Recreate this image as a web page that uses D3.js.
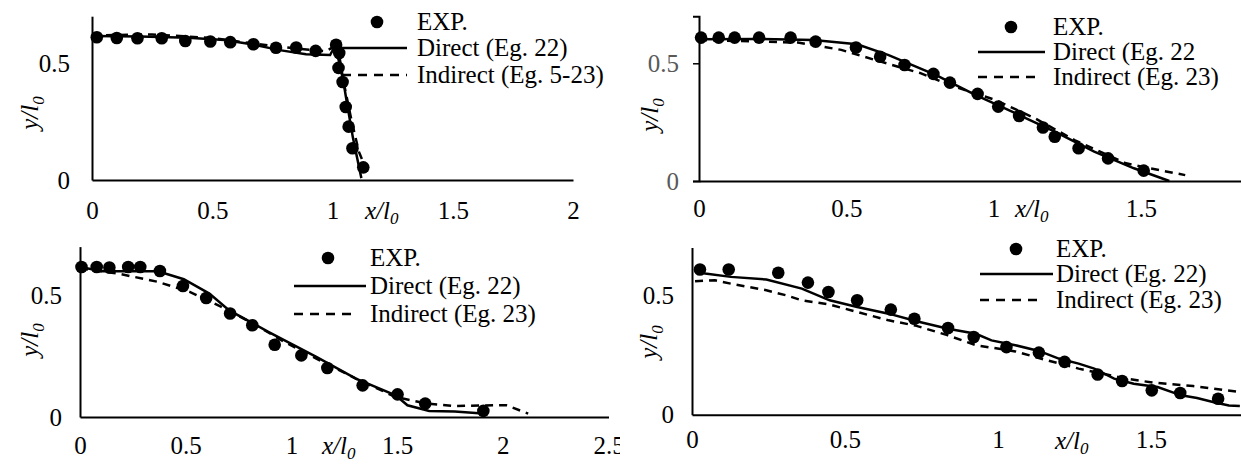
<!DOCTYPE html>
<html>
<head>
<meta charset="utf-8">
<script src="https://cdn.jsdelivr.net/npm/d3@7"></script>
<style>
  body { margin: 0; background: #fff; }
  #wrap { position: relative; width: 1241px; height: 464px; overflow: hidden; }
  svg { position: absolute; }
</style>
</head>
<body>
<div id="wrap"></div>
<script>
// panel A (top left)
const expA = [[0.020,0.610],[0.103,0.607],[0.189,0.606],[0.290,0.606],[0.388,0.594],[0.492,0.592],[0.575,0.589],[0.671,0.580],[0.765,0.565],[0.849,0.566],[0.930,0.552],[1.015,0.578],[1.028,0.543],[1.025,0.479],[1.042,0.419],[1.055,0.312],[1.067,0.228],[1.083,0.136],[1.128,0.054]];
const directA = [[0,0.615],[0.2,0.613],[0.4,0.608],[0.55,0.598],[0.67,0.579],[0.78,0.555],[0.89,0.537],[0.99,0.534],[1.01,0.572],[1.03,0.52],[1.055,0.36],[1.085,0.18],[1.12,0.008]];
const indirectA = [[0,0.618],[0.25,0.622],[0.5,0.607],[0.68,0.582],[0.85,0.562],[0.97,0.55],[1.0,0.566],[1.025,0.515],[1.05,0.40],[1.08,0.25],[1.11,0.12],[1.15,0.02]];

// panel B (top right)
const expB = [[0.007,0.609],[0.067,0.609],[0.121,0.609],[0.204,0.609],[0.311,0.609],[0.396,0.592],[0.533,0.567],[0.615,0.528],[0.698,0.493],[0.796,0.455],[0.852,0.418],[0.946,0.370],[1.016,0.316],[1.087,0.276],[1.168,0.227],[1.208,0.188],[1.289,0.139],[1.389,0.096],[1.510,0.044]];
const directB = [[0,0.602],[0.2,0.603],[0.389,0.599],[0.537,0.581],[0.644,0.535],[0.805,0.450],[0.940,0.365],[1.074,0.288],[1.208,0.210],[1.342,0.125],[1.477,0.054],[1.597,0]];
const indirectB = [[0,0.599],[0.336,0.588],[0.483,0.557],[0.617,0.507],[0.752,0.458],[0.859,0.404],[1.007,0.344],[1.141,0.266],[1.275,0.174],[1.450,0.075],[1.530,0.054],[1.651,0.025]];

// panel C (bottom left)
const expC = [[0.007,0.616],[0.079,0.616],[0.139,0.614],[0.228,0.616],[0.285,0.616],[0.378,0.600],[0.487,0.538],[0.597,0.489],[0.710,0.425],[0.815,0.377],[0.921,0.297],[1.047,0.253],[1.170,0.201],[1.337,0.130],[1.502,0.093],[1.633,0.055],[1.908,0.025]];
const directC = [[0,0.616],[0.107,0.599],[0.369,0.599],[0.491,0.566],[0.612,0.507],[0.706,0.438],[0.893,0.349],[1.118,0.247],[1.305,0.158],[1.493,0.089],[1.549,0.048],[1.652,0.025],[1.773,0.023],[1.904,0.014]];
const indirectC = [[0,0.610],[0.182,0.589],[0.369,0.555],[0.519,0.514],[0.669,0.452],[0.818,0.384],[0.968,0.308],[1.118,0.240],[1.305,0.158],[1.493,0.082],[1.642,0.055],[1.773,0.045],[1.961,0.048],[2.017,0.048],[2.120,0.014]];

// panel D (bottom right)
const expD = [[0.026,0.608],[0.120,0.608],[0.282,0.594],[0.379,0.553],[0.446,0.514],[0.540,0.479],[0.650,0.440],[0.727,0.402],[0.837,0.363],[0.921,0.325],[1.028,0.283],[1.134,0.260],[1.218,0.221],[1.326,0.168],[1.406,0.141],[1.503,0.102],[1.596,0.091],[1.720,0.067]];
const directD = [[0.010,0.601],[0.043,0.591],[0.127,0.577],[0.243,0.566],[0.359,0.528],[0.450,0.479],[0.540,0.451],[0.643,0.423],[0.734,0.391],[0.837,0.360],[0.928,0.339],[0.979,0.311],[1.057,0.291],[1.134,0.267],[1.199,0.235],[1.264,0.214],[1.315,0.193],[1.380,0.151],[1.444,0.130],[1.522,0.116],[1.599,0.081],[1.651,0.070],[1.703,0.053],[1.755,0.039],[1.791,0.036]];
const indirectD = [[0.010,0.559],[0.075,0.563],[0.140,0.545],[0.243,0.521],[0.307,0.500],[0.359,0.479],[0.450,0.461],[0.540,0.430],[0.643,0.395],[0.734,0.372],[0.837,0.332],[0.928,0.291],[1.057,0.265],[1.160,0.228],[1.264,0.193],[1.315,0.179],[1.419,0.151],[1.509,0.134],[1.638,0.120],[1.791,0.095]];

const legendA = ["EXP.", "Direct (Eg. 22)", "Indirect (Eg. 5-23)"];
const legendB = ["EXP.", "Direct (Eg. 22", "Indirect (Eg. 23)"];
const legendCD = ["EXP.", "Direct (Eg. 22)", "Indirect (Eg. 23)"];

const yTicks = [0, 0.5];
const xTicks = [0, 0.5, 1, 1.5, 2];
const xTicksCut = [0, 0.5, 1, 1.5]; // right panels are cropped before 2
const xTicksC = [0, 0.5, 1, 1.5, 2, 2.5];

const panels = [
  { left: 0, top: 0, w: 620, exp: expA, direct: directA, indirect: indirectA, legend: legendA,
    xMax: 2, ticks: xTicks, xr: [92, 573], yr: [180, 16.2], yTitle: [38, 113], xTitle: 365,
    leg: { marker: 377, line: [340, 407], dash: [342, 407], text: 417, rows: [22, 48, 75] },
    yTickColor: "#000", yTickLen: 0, yPad: 22, xPad: 21 },
  { left: 620, top: 0, w: 621, exp: expB, direct: directB, indirect: indirectB, legend: legendB,
    xMax: 2, ticks: xTicksCut, xr: [79, 668], yr: [181, 16.2], yTitle: [38, 115], xTitle: 395,
    leg: { marker: 391, line: [358, 425], dash: [358, 420], text: 433, rows: [27, 52, 77] },
    yTickColor: "#595959", yTickLen: 6, yPad: 20, xPad: 18 },
  { left: 0, top: 232, w: 620, exp: expC, direct: directC, indirect: indirectC, legend: legendCD,
    xMax: 2.5, ticks: xTicksC, xr: [80, 608.5], yr: [185, 14.6], yTitle: [38, 108], xTitle: 322,
    leg: { marker: 328, line: [294, 366], dash: [294, 358], text: 370, rows: [26, 54, 82] },
    yTickColor: "#000", yTickLen: 0, yPad: 18, xPad: 19 },
  { left: 620, top: 232, w: 621, exp: expD, direct: directD, indirect: indirectD, legend: legendCD,
    xMax: 2, ticks: xTicksCut, xr: [72, 683.8], yr: [182.7, 15.5], yTitle: [37, 110], xTitle: 435,
    leg: { marker: 396, line: [360, 433], dash: [360, 423], text: 436, rows: [17, 42, 68] },
    yTickColor: "#000", yTickLen: 0, yPad: 18, xPad: 16 }
];

const fontSize = 25;
const serif = '"Liberation Serif", "Times New Roman", serif';

panels.forEach(p => {
  const svg = d3.select("#wrap")
    .append("svg")
    .attr("width", p.w)
    .attr("height", 232)
    .style("left", p.left + "px")
    .style("top", p.top + "px");

  const x = d3.scaleLinear().domain([0, p.xMax]).range(p.xr);
  const y = d3.scaleLinear().domain([0, 0.7]).range(p.yr);

  // axes, Excel-like: plain lines, no tick marks on x
  const xAxis = svg.append("g")
    .attr("transform", `translate(0,${y(0)})`)
    .call(d3.axisBottom(x).tickValues(p.ticks).tickSize(0).tickPadding(p.xPad)
      .tickFormat(d => d3.format("")(d)));
  xAxis.select(".domain").attr("stroke", "#000").attr("stroke-width", 2);
  xAxis.selectAll("text")
    .style("font-family", serif)
    .style("font-size", fontSize + "px")
    .attr("fill", "#000");

  const yAxis = svg.append("g")
    .attr("transform", `translate(${x(0)},0)`)
    .call(d3.axisLeft(y).tickValues(yTicks).tickSize(p.yTickLen)
      .tickPadding(p.yPad - p.yTickLen).tickFormat(d => d3.format("")(d)));
  yAxis.select(".domain").attr("stroke", "#000").attr("stroke-width", 2);
  yAxis.selectAll("line").attr("stroke", "#000").attr("stroke-width", 1.5);
  yAxis.selectAll("text")
    .style("font-family", serif)
    .style("font-size", fontSize + "px")
    .attr("fill", p.yTickColor);

  // axis titles, sitting on the tick label row
  const xt = svg.append("text")
    .attr("x", p.xTitle)
    .attr("y", y(0) + p.xPad + 18)
    .style("font-family", serif)
    .style("font-size", fontSize + "px")
    .style("font-style", "italic")
    .text("x/l");
  xt.append("tspan").attr("dy", 5).style("font-size", "17px").text("0");

  const yt = svg.append("text")
    .attr("transform", `translate(${p.yTitle[0]},${p.yTitle[1]}) rotate(-90)`)
    .attr("text-anchor", "middle")
    .style("font-family", serif)
    .style("font-size", fontSize + "px")
    .style("font-style", "italic")
    .text("y/l");
  yt.append("tspan").attr("dy", 6).style("font-size", "17px").text("0");

  // model curves
  const line = d3.line().x(d => x(d[0])).y(d => y(d[1]));

  svg.append("path")
    .datum(p.direct)
    .attr("fill", "none")
    .attr("stroke", "#000")
    .attr("stroke-width", 2.5)
    .attr("d", line);

  svg.append("path")
    .datum(p.indirect)
    .attr("fill", "none")
    .attr("stroke", "#000")
    .attr("stroke-width", 2.5)
    .attr("stroke-dasharray", "8,6")
    .attr("d", line);

  // experimental points
  svg.append("g")
    .selectAll("circle")
    .data(p.exp)
    .enter()
    .append("circle")
    .attr("cx", d => x(d[0]))
    .attr("cy", d => y(d[1]))
    .attr("r", 6.3)
    .attr("fill", "#000");

  // legend
  const leg = svg.append("g").attr("class", "legend");
  leg.append("circle")
    .attr("cx", p.leg.marker)
    .attr("cy", p.leg.rows[0])
    .attr("r", 6.3)
    .attr("fill", "#000");
  leg.append("line")
    .attr("x1", p.leg.line[0]).attr("x2", p.leg.line[1])
    .attr("y1", p.leg.rows[1]).attr("y2", p.leg.rows[1])
    .attr("stroke", "#000").attr("stroke-width", 2.5);
  leg.append("line")
    .attr("x1", p.leg.dash[0]).attr("x2", p.leg.dash[1])
    .attr("y1", p.leg.rows[2]).attr("y2", p.leg.rows[2])
    .attr("stroke", "#000").attr("stroke-width", 2.5)
    .attr("stroke-dasharray", "9,7");
  leg.selectAll("text")
    .data(p.legend)
    .enter()
    .append("text")
    .attr("x", p.leg.text)
    .attr("y", (d, i) => p.leg.rows[i])
    .attr("dy", "0.33em")
    .style("font-family", serif)
    .style("font-size", fontSize + "px")
    .attr("fill", "#000")
    .text(d => d);
});
</script>
</body>
</html>
